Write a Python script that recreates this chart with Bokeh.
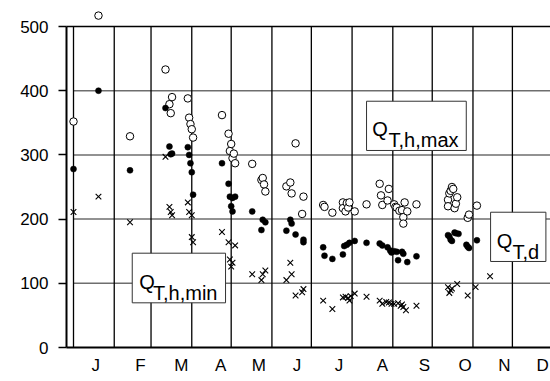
from bokeh.plotting import figure
from bokeh.models import Range1d, FixedTicker
from bokeh.core.properties import value
from bokeh.embed import file_html
from bokeh.resources import INLINE

# ---- data (x = day of year, y = Q) ----
max_day = [0, 19, 43, 70, 73, 74, 75, 87, 88, 89, 90, 91, 113, 118, 119, 120, 121, 122, 123,
           136, 143, 144, 145, 146, 162, 165, 166, 169, 174, 175, 190, 191, 197, 205, 205, 207,
           208, 209, 210, 214, 223, 233, 234, 235, 239, 240, 244, 245, 246, 248, 250, 251, 251,
           252, 254, 261, 285, 285, 286, 287, 288, 289, 290, 291, 292, 300, 301, 307]
max_q = [352, 517, 329, 433, 379, 365, 390, 388, 358, 348, 340, 327, 362, 333, 306, 317, 295, 302, 287,
         286, 261, 264, 254, 243, 251, 257, 240, 318, 208, 235, 222, 219, 210, 226, 217, 212,
         225, 218, 226, 212, 223, 255, 237, 222, 229, 247, 223, 219, 218, 213, 214, 203, 193,
         226, 212, 223, 230, 220, 240, 244, 250, 247, 217, 224, 234, 202, 207, 221]

day_day = [0, 19, 43, 70, 73, 74, 75, 87, 88, 89, 90, 91, 113, 118, 119, 121, 123, 120, 121,
           136, 143, 144, 146, 162, 165, 166, 169, 175, 175, 190, 191, 197, 205, 206, 208, 210,
           214, 223, 233, 235, 239, 241, 242, 244, 246, 247, 250, 251, 254, 261, 285, 286, 287,
           288, 290, 291, 293, 299, 300, 301, 307]
day_q = [278, 400, 276, 373, 313, 301, 302, 312, 300, 287, 273, 238, 287, 255, 235, 233, 235, 220, 212,
         212, 183, 199, 195, 182, 199, 193, 176, 168, 164, 156, 143, 138, 145, 158, 160, 163,
         166, 163, 162, 159, 156, 151, 148, 150, 149, 136, 149, 146, 133, 142, 175, 173, 168,
         166, 179, 178, 177, 160, 157, 155, 167]

min_day = [0, 19, 43, 70, 73, 74, 75, 87, 88, 90, 90, 91, 113, 118, 123, 119, 121, 120, 136, 143, 144,
           146, 162, 165, 166, 169, 174, 175, 190, 197, 205, 207, 209, 210, 211, 214, 223, 233, 235,
           238, 240, 242, 244, 247, 249, 250, 251, 253, 261, 285, 286, 287, 288, 292, 300, 306, 317]
min_q = [211, 235, 195, 297, 219, 211, 206, 226, 211, 206, 172, 164, 180, 164, 159, 137, 132, 126, 114, 105, 114,
         120, 105, 132, 114, 81, 86, 91, 73, 60, 78, 79, 77, 73, 80, 84, 79, 73, 68,
         71, 70, 68, 68, 69, 65, 67, 63, 58, 65, 94, 85, 89, 92, 99, 81, 94, 111]

month_starts = [0, 31, 59, 90, 120, 151, 181, 212, 243, 273, 304, 334]
month_labels = ["J", "F", "M", "A", "M", "J", "J", "A", "S", "O", "N", "D"]
label_days = [17, 51, 82, 112, 141, 170, 202, 235, 267, 298, 328, 357]
y_ticks = [0, 100, 200, 300, 400, 500]
grid_q = [100, 200, 300, 400]

FONT = "Liberation Sans"

p = figure(width=550, height=381, x_range=Range1d(-5.33, 363.0), y_range=Range1d(0, 540.5),
           output_backend="svg", toolbar_location=None,
           min_border_left=66, min_border_right=0, min_border_top=0, min_border_bottom=34)
p.outline_line_color = None
p.xgrid.visible = False
p.ygrid.visible = False
p.background_fill_color = "white"

# grid lines
p.segment(x0=[0] * len(grid_q), y0=grid_q, x1=[380] * len(grid_q), y1=grid_q,
          line_color="#6e6e6e", line_width=1.5)
p.segment(x0=[-10], y0=[500], x1=[380], y1=[500], line_color="black", line_width=1.5)
p.segment(x0=month_starts, y0=[0] * len(month_starts), x1=month_starts, y1=[500] * len(month_starts),
          line_color="black", line_width=1.3)

# data
p.scatter(max_day, max_q, marker="circle", size=7.5, fill_color="white", line_color="black", line_width=1)
p.scatter(day_day, day_q, marker="circle", size=6, fill_color="black", line_color="black", line_width=0.5)
p.scatter(min_day, min_q, marker="x", size=8, line_color="black", line_width=1.1)

# label boxes
p.quad(left=[223, 44.7, 317.4], right=[298.9, 115.7, 359.5],
       bottom=[306.9, 69.6, 134], top=[383.6, 146.9, 210.7],
       fill_color="white", line_color="#333333", line_width=1)
p.text(x=[227.3, 50, 322.1], y=[339.6, 102.8, 166.2], text=["Q", "Q", "Q"],
       text_font=value(FONT), text_font_size=value("20px"), text_color="black",
       text_baseline="alphabetic", text_align="left")
p.text(x=[239.7, 60.5, 334.1], y=[323.2, 84.6, 148.4], text=["T,h,max", "T,h,min", "T,d"],
       text_font=value(FONT), text_font_size=value("20px"), text_color="black",
       text_baseline="alphabetic", text_align="left")

# axes
ya = p.yaxis[0]
ya.ticker = FixedTicker(ticks=y_ticks)
ya.bounds = (0, 500)
ya.axis_line_width = 2
ya.axis_line_color = "black"
ya.major_tick_out = 8
ya.major_tick_in = 0
ya.major_tick_line_width = 1.5
ya.minor_tick_line_color = None
ya.major_label_standoff = 10
ya.major_label_text_font = FONT
ya.major_label_text_font_size = "17px"
ya.major_label_text_color = "black"

xa = p.xaxis[0]
xa.ticker = FixedTicker(ticks=label_days)
xa.major_label_overrides = {d: m for d, m in zip(label_days, month_labels)}
xa.axis_line_width = 2
xa.axis_line_color = "black"
xa.major_tick_out = 0
xa.major_tick_in = 0
xa.minor_tick_line_color = None
xa.major_label_standoff = 8
xa.major_label_text_font = FONT
xa.major_label_text_font_size = "17px"
xa.major_label_text_color = "black"

open("out.html", "w").write(file_html(p, INLINE))
